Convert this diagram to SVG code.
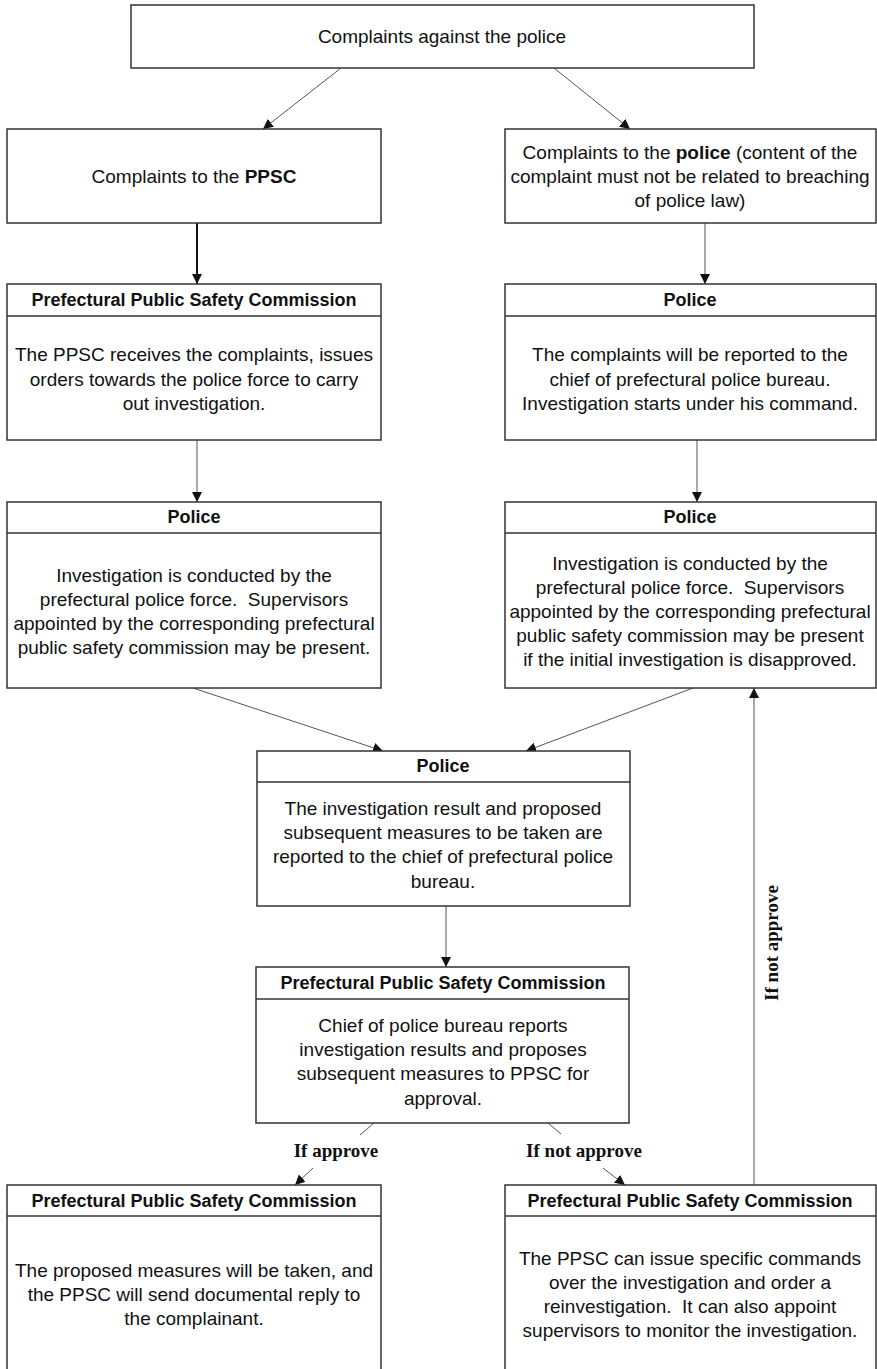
<svg xmlns="http://www.w3.org/2000/svg" width="877" height="1369" viewBox="0 0 877 1369">
<style>
.box{fill:#fff;stroke:#333;stroke-width:1.5}
.hl{stroke:#333;stroke-width:1.5}
.t{font-family:"Liberation Sans",Arial,sans-serif;font-size:19px;fill:#111;text-anchor:middle;white-space:pre}
.h{font-family:"Liberation Sans",Arial,sans-serif;font-size:18px;font-weight:bold;fill:#111;text-anchor:middle}
.lbl{font-family:"Liberation Serif","Times New Roman",serif;font-size:19px;font-weight:bold;fill:#111;text-anchor:middle}
.c{stroke:#555;stroke-width:1;fill:none}
.ck{stroke:#111;stroke-width:2;fill:none}
</style>
<defs>
<marker id="ar" markerWidth="10" markerHeight="10" refX="10" refY="5" orient="auto" markerUnits="userSpaceOnUse" viewBox="0 0 10 10">
<path d="M0,0 L10,5 L0,10 z" fill="#111"/>
</marker>
</defs>
<rect width="877" height="1369" fill="#fff"/>

<g id="connectors">
<line class="c" x1="341" y1="68" x2="263" y2="129" marker-end="url(#ar)"/>
<line class="c" x1="554" y1="68" x2="630" y2="129" marker-end="url(#ar)"/>
<line class="ck" x1="197" y1="223" x2="197" y2="284" marker-end="url(#ar)"/>
<line class="c" x1="705" y1="223" x2="705" y2="284" marker-end="url(#ar)"/>
<line class="c" x1="197" y1="440" x2="197" y2="502" marker-end="url(#ar)"/>
<line class="c" x1="697" y1="440" x2="697" y2="502" marker-end="url(#ar)"/>
<line class="c" x1="193" y1="688" x2="383" y2="751" marker-end="url(#ar)"/>
<line class="c" x1="693" y1="688" x2="526" y2="751" marker-end="url(#ar)"/>
<line class="c" x1="446" y1="906" x2="446" y2="967" marker-end="url(#ar)"/>
<line class="c" x1="374" y1="1123" x2="360" y2="1135"/>
<line class="c" x1="313" y1="1168" x2="295" y2="1185" marker-end="url(#ar)"/>
<line class="c" x1="548" y1="1123" x2="561" y2="1134"/>
<line class="c" x1="603" y1="1168" x2="625" y2="1185" marker-end="url(#ar)"/>
<line class="c" x1="754" y1="1185" x2="754" y2="688" marker-end="url(#ar)"/>
<text class="lbl" x="336" y="1157">If approve</text>
<text class="lbl" x="584" y="1157">If not approve</text>
<text class="lbl" transform="translate(778,943) rotate(-90)" x="0" y="0">If not approve</text>
</g>

<g id="n-top">
<rect class="box" x="131" y="5" width="623" height="63"/>
<text class="t" x="442" y="43">Complaints against the police</text>
</g>

<g id="n-ppsc-complaint">
<rect class="box" x="7" y="129" width="374" height="94"/>
<text class="t" x="194" y="183">Complaints to the <tspan font-weight="bold">PPSC</tspan></text>
</g>

<g id="n-police-complaint">
<rect class="box" x="505" y="129" width="371" height="94"/>
<text class="t" x="690" y="159">Complaints to the <tspan font-weight="bold">police</tspan> (content of the</text>
<text class="t" x="690" y="183">complaint must not be related to breaching</text>
<text class="t" x="690" y="207">of police law)</text>
</g>

<g id="n-ppsc-receive">
<rect class="box" x="7" y="284" width="374" height="156"/>
<line class="hl" x1="7" y1="316" x2="381" y2="316"/>
<text class="h" x="194" y="306">Prefectural Public Safety Commission</text>
<text class="t" x="194" y="361">The PPSC receives the complaints, issues</text>
<text class="t" x="194" y="386">orders towards the police force to carry</text>
<text class="t" x="194" y="410">out investigation.</text>
</g>

<g id="n-police-report">
<rect class="box" x="505" y="284" width="371" height="156"/>
<line class="hl" x1="505" y1="316" x2="876" y2="316"/>
<text class="h" x="690" y="306">Police</text>
<text class="t" x="690" y="361">The complaints will be reported to the</text>
<text class="t" x="690" y="386">chief of prefectural police bureau.</text>
<text class="t" x="690" y="410">Investigation starts under his command.</text>
</g>

<g id="n-police-inv-left">
<rect class="box" x="7" y="502" width="374" height="186"/>
<line class="hl" x1="7" y1="533" x2="381" y2="533"/>
<text class="h" x="194" y="523">Police</text>
<text class="t" x="194" y="582">Investigation is conducted by the</text>
<text class="t" x="194" y="606" xml:space="preserve">prefectural police force.  Supervisors</text>
<text class="t" x="194" y="630">appointed by the corresponding prefectural</text>
<text class="t" x="194" y="654">public safety commission may be present.</text>
</g>

<g id="n-police-inv-right">
<rect class="box" x="505" y="502" width="371" height="186"/>
<line class="hl" x1="505" y1="533" x2="876" y2="533"/>
<text class="h" x="690" y="523">Police</text>
<text class="t" x="690" y="570">Investigation is conducted by the</text>
<text class="t" x="690" y="594" xml:space="preserve">prefectural police force.  Supervisors</text>
<text class="t" x="690" y="618">appointed by the corresponding prefectural</text>
<text class="t" x="690" y="642">public safety commission may be present</text>
<text class="t" x="690" y="666">if the initial investigation is disapproved.</text>
</g>

<g id="n-police-result">
<rect class="box" x="257" y="751" width="373" height="155"/>
<line class="hl" x1="257" y1="782" x2="630" y2="782"/>
<text class="h" x="443" y="772">Police</text>
<text class="t" x="443" y="815">The investigation result and proposed</text>
<text class="t" x="443" y="839">subsequent measures to be taken are</text>
<text class="t" x="443" y="863">reported to the chief of prefectural police</text>
<text class="t" x="443" y="888">bureau.</text>
</g>

<g id="n-ppsc-approval">
<rect class="box" x="256" y="967" width="373" height="156"/>
<line class="hl" x1="256" y1="999" x2="629" y2="999"/>
<text class="h" x="443" y="989">Prefectural Public Safety Commission</text>
<text class="t" x="443" y="1032">Chief of police bureau reports</text>
<text class="t" x="443" y="1056">investigation results and proposes</text>
<text class="t" x="443" y="1080">subsequent measures to PPSC for</text>
<text class="t" x="443" y="1105">approval.</text>
</g>

<g id="n-ppsc-approve">
<rect class="box" x="7" y="1185" width="374" height="200"/>
<line class="hl" x1="7" y1="1216" x2="381" y2="1216"/>
<text class="h" x="194" y="1207">Prefectural Public Safety Commission</text>
<text class="t" x="194" y="1277">The proposed measures will be taken, and</text>
<text class="t" x="194" y="1301">the PPSC will send documental reply to</text>
<text class="t" x="194" y="1325">the complainant.</text>
</g>

<g id="n-ppsc-notapprove">
<rect class="box" x="505" y="1185" width="371" height="200"/>
<line class="hl" x1="505" y1="1216" x2="876" y2="1216"/>
<text class="h" x="690" y="1207">Prefectural Public Safety Commission</text>
<text class="t" x="690" y="1265">The PPSC can issue specific commands</text>
<text class="t" x="690" y="1289">over the investigation and order a</text>
<text class="t" x="690" y="1313" xml:space="preserve">reinvestigation.  It can also appoint</text>
<text class="t" x="690" y="1337">supervisors to monitor the investigation.</text>
</g>
</svg>
